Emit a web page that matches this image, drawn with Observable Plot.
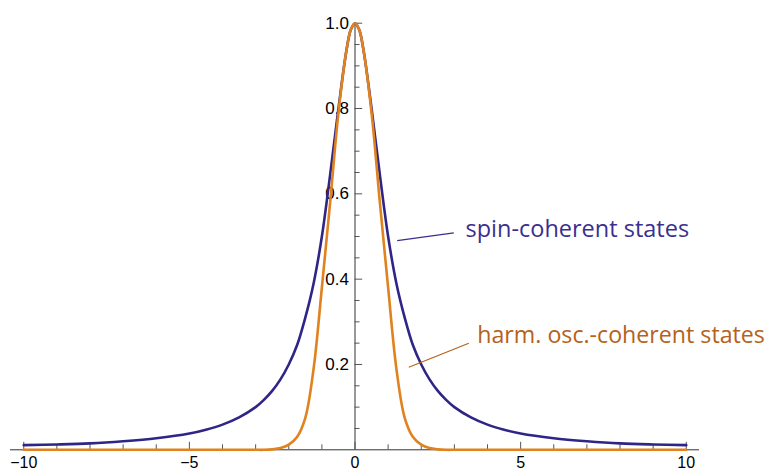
<!DOCTYPE html>
<html><head><meta charset="utf-8">
<script src="https://cdn.jsdelivr.net/npm/d3@7"></script>
<script src="https://cdn.jsdelivr.net/npm/@observablehq/plot@0.6"></script>
<style>html,body{margin:0;padding:0;background:#fff;} #chart svg{display:block;}</style>
</head><body><div id="chart"></div>
<script>
// sample positions along the horizontal axis
const xs = [-10,-9,-8,-7,-6,-5,-4.5,-4,-3.5,-3,-2.75,-2.5,-2.25,-2,-1.75,-1.5,-1.25,-1,-0.75,-0.5,-0.25,-0.125,0,
            0.125,0.25,0.5,0.75,1,1.25,1.5,1.75,2,2.25,2.5,2.75,3,3.5,4,4.5,5,6,7,8,9,10];
// spin-coherent states overlap
const spinValues = [0.011,0.0125,0.015,0.02,0.027,0.038,0.047,0.059,0.076,0.10,0.117,0.138,0.165,0.20,0.245,0.31,0.39,0.50,0.645,0.80,0.94,0.985,1.0,
                    0.985,0.94,0.80,0.645,0.50,0.39,0.31,0.245,0.20,0.165,0.138,0.117,0.10,0.076,0.059,0.047,0.038,0.027,0.02,0.015,0.0125,0.011];
// harmonic-oscillator coherent states overlap
const harmValues = [0,0,0,0,0,0,0,0,0,0,0,0.001,0.004,0.012,0.03,0.075,0.19,0.38,0.58,0.79,0.94,0.985,1.0,
                    0.985,0.94,0.79,0.58,0.38,0.19,0.075,0.03,0.012,0.004,0.001,0,0,0,0,0,0,0,0,0,0,0];
const seriesNames = ["spin-coherent states", "harm. osc.-coherent states"];

const xMajorTicks = [-10,-5,0,5,10];
const xTickLabels = ["\u221210","\u22125","0","5","10"];
const xMinorTicks = [-9,-8,-7,-6,-4,-3,-2,-1,1,2,3,4,6,7,8,9];
const yMajorTicks = [0.2,0.4,0.6,0.8,1.0];
const yTickLabels = ["0.2","0.4","0.6","0.8","1.0"];
const yMinorTicks = [0.05,0.1,0.15,0.25,0.3,0.35,0.45,0.5,0.55,0.65,0.7,0.75,0.85,0.9,0.95];

const spinData = xs.map((x,i)=>({x, y: spinValues[i]}));
const harmData = xs.map((x,i)=>({x, y: harmValues[i]}));

const W = 768, H = 470, mT = 22.7, mB = 20.7, mL = 10, mR = 69;
const innerH = H - mT - mB;
const blue = "#2f2587", orange = "#e0821e";
const blueText = "#3a2f8f", orangeText = "#b5621c";
const axisColor = "#333";

const chart = Plot.plot({
  width: W, height: H,
  marginTop: mT, marginBottom: mB, marginLeft: mL, marginRight: mR,
  x: {domain: [-10.4, 10.4], axis: null},
  y: {domain: [0, 1], axis: null},
  style: {fontFamily: "'Liberation Sans', Arial, sans-serif", background: "white", overflow: "visible"},
  marks: [
    Plot.ruleY([0], {stroke: axisColor, strokeWidth: 1}),
    Plot.ruleX([0], {y1: 0, y2: 1, stroke: axisColor, strokeWidth: 1}),
    Plot.ruleX(xMajorTicks, {insetTop: innerH - 7.5, stroke: "#555", strokeWidth: 1}),
    Plot.ruleX(xMinorTicks, {insetTop: innerH - 5, stroke: "#555", strokeWidth: 1}),
    Plot.ruleY(yMajorTicks, {x1: 0, x2: 0, insetRight: -7.7, stroke: "#555", strokeWidth: 1}),
    Plot.ruleY(yMinorTicks, {x1: 0, x2: 0, insetRight: -5, stroke: "#555", strokeWidth: 1}),
    Plot.text(xTickLabels, {x: xMajorTicks, frameAnchor: "bottom", text: d => d, dy: 7, lineAnchor: "top", fontSize: 16, fill: "black"}),
    Plot.text(yTickLabels, {x: 0, y: yMajorTicks, text: d => d, dx: -6, textAnchor: "end", fontSize: 17, fill: "black"}),
    Plot.line(spinData, {x: "x", y: "y", stroke: blue, strokeWidth: 2.6, curve: "catmull-rom"}),
    Plot.line(harmData, {x: "x", y: "y", stroke: orange, strokeWidth: 2.6, curve: "catmull-rom"}),
    Plot.link([seriesNames[0]], {x1: 1.274, y1: 0.4905, x2: 2.983, y2: 0.5086, stroke: blueText, strokeWidth: 1.2}),
    Plot.link([seriesNames[1]], {x1: 1.624, y1: 0.1936, x2: 3.435, y2: 0.2498, stroke: orangeText, strokeWidth: 1.2}),
    Plot.text([seriesNames[0]], {x: 3.336, y: 0.5, text: d => d, textAnchor: "start", lineAnchor: "bottom", fill: blueText, fontSize: 23.5, fontFamily: "'Open Sans', sans-serif"}),
    Plot.text([seriesNames[1]], {x: 3.69, y: 0.25, text: d => d, textAnchor: "start", lineAnchor: "bottom", fill: orangeText, fontSize: 23.2, fontFamily: "'Open Sans', sans-serif"})
  ]
});
document.getElementById("chart").appendChild(chart);
</script>
</body></html>
